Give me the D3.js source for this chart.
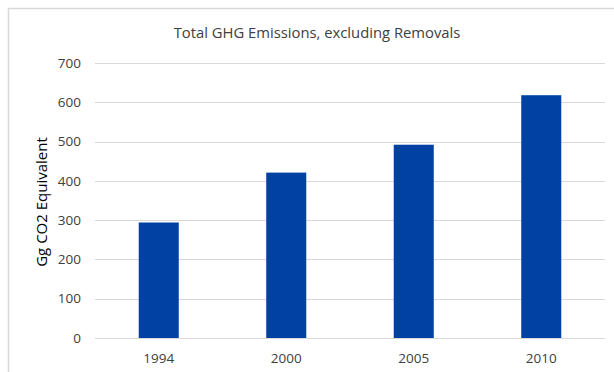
<!DOCTYPE html>
<html><head><meta charset="utf-8">
<script src="https://cdn.jsdelivr.net/npm/d3@7"></script>
<style>body{margin:0;background:#fff}svg{display:block}text{font-family:"Open Sans",sans-serif;fill:#404040}</style>
</head><body><svg id="c" width="614" height="372"></svg>
<script>
const categories = ["1994","2000","2005","2010"];
const values = [294, 421, 492, 618];
const yTicks = [0,100,200,300,400,500,600,700];
const title = "Total GHG Emissions, excluding Removals";
const yTitle = "Gg CO2 Equivalent";

const svg = d3.select("#c");
// chart border
svg.append("path").attr("d","M8.5,372 V8.5 H614").attr("fill","none").attr("stroke","#d9d9d9").attr("stroke-width",1.5);

const x = d3.scaleBand().domain(categories).range([95,605]).paddingInner(0.686).paddingOuter(0.343);
const y = d3.scaleLinear().domain([0,700]).range([338,63]);

svg.append("g").selectAll("line").data(yTicks).join("line")
  .attr("x1",95).attr("x2",605).attr("y1",d=>Math.round(y(d))+0.5).attr("y2",d=>Math.round(y(d))+0.5)
  .attr("stroke","#d9d9d9").attr("stroke-width",1);

svg.append("g").selectAll("text").data(yTicks).join("text")
  .attr("x",81).attr("y",d=>y(d)).attr("dy","0.35em").attr("text-anchor","end")
  .style("font-size","13.5px").text(d=>d);

svg.append("g").selectAll("rect").data(values).join("rect")
  .attr("x",(d,i)=>x(categories[i])).attr("width",x.bandwidth())
  .attr("y",d=>y(d)).attr("height",d=>y(0)-y(d))
  .attr("fill","#0041a3");

svg.append("g").selectAll("text").data(categories).join("text")
  .attr("x",d=>x(d)+x.bandwidth()/2).attr("y",358).attr("dy","0.35em").attr("text-anchor","middle")
  .style("font-size","13.5px").text(d=>d);

svg.append("text").attr("x",317).attr("y",33).attr("dy","0.35em").attr("text-anchor","middle")
  .style("font-size","14.8px").text(title);

svg.append("text").attr("transform","translate(42,202) rotate(-90)").attr("dy","0.35em").attr("text-anchor","middle")
  .style("font-size","15px").style("fill","#000").text(yTitle);
</script></body></html>
